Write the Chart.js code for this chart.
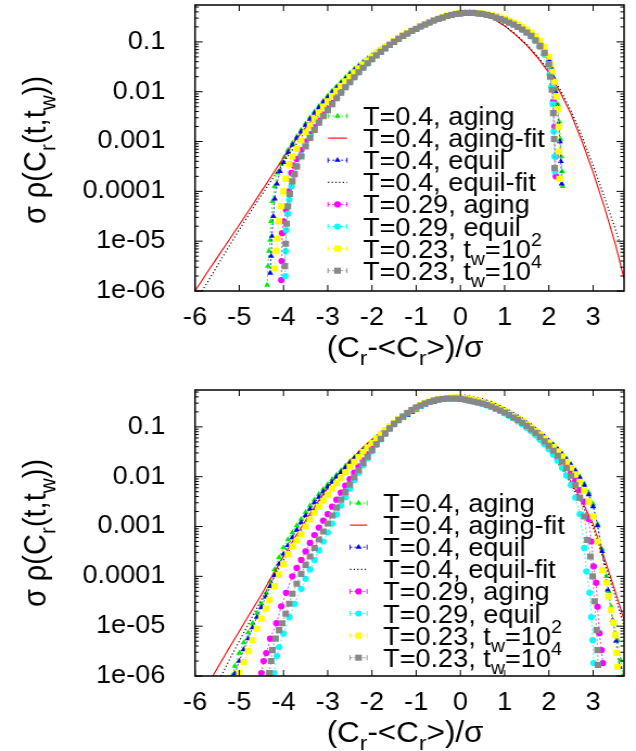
<!DOCTYPE html>
<html>
<head>
<meta charset="utf-8">
<script src="https://cdn.jsdelivr.net/npm/chart.js@4.4.0/dist/chart.umd.min.js"></script>
<style>
  html, body { margin: 0; padding: 0; background: #fff; }
  #wrap { position: relative; width: 636px; height: 751px; overflow: hidden; }
  canvas { position: absolute; left: 0; }
</style>
</head>
<body>
<div id="wrap">
  <canvas id="top" width="586" height="375" style="top:0;width:636px;height:375px"></canvas>
  <canvas id="bottom" width="586" height="376" style="top:375px;width:636px;height:376px"></canvas>
</div>
<script>
// ---- axes ----
const xTickValues = [-6, -5, -4, -3, -2, -1, 0, 1, 2, 3];
const yTickValues = [1e-6, 1e-5, 1e-4, 1e-3, 1e-2, 1e-1];
const yTickLabels = ['1e-06', '1e-05', '0.0001', '0.001', '0.01', '0.1'];
const xTitle = ['(C', { sub: 'r' }, '-<C', { sub: 'r' }, '>)/σ'];
const yTitle = ['σ ρ(C', { sub: 'r' }, '(t,t', { sub: 'w' }, '))'];

const legendLabels = [
  ['T=0.4, aging'],
  ['T=0.4, aging-fit'],
  ['T=0.4, equil'],
  ['T=0.4, equil-fit'],
  ['T=0.29, aging'],
  ['T=0.29, equil'],
  ['T=0.23, t', { sub: 'w' }, '=10', { sup: '2' }],
  ['T=0.23, t', { sub: 'w' }, '=10', { sup: '4' }]
];

// ---- top panel data (y given as log10) ----
const topX = [-3.7,-3.6,-3.5,-3.4,-3.3,-3.2,-3.1,-3.0,-2.9,-2.8,
  -2.7,-2.6,-2.5,-2.4,-2.3,-2.2,-2.1,-2.0,-1.9,-1.8,
  -1.7,-1.6,-1.5,-1.4,-1.3,-1.2,-1.1,-1.0,-0.9,-0.8,
  -0.7,-0.6,-0.5,-0.4,-0.3,-0.2,-0.1,0,0.1,0.2,
  0.3,0.4,0.5,0.6,0.7,0.8,0.9,1.0,1.1,1.2,
  1.3,1.4,1.5,1.6,1.7,1.8,1.9,2.0];

const topGreen = [-2.9,-2.77,-2.64,-2.52,-2.4,-2.29,-2.18,-2.08,-1.98,-1.89,
  -1.8,-1.71,-1.62,-1.54,-1.47,-1.4,-1.33,-1.27,-1.21,-1.15,
  -1.09,-1.04,-0.99,-0.93,-0.88,-0.83,-0.78,-0.74,-0.69,-0.65,
  -0.61,-0.57,-0.53,-0.5,-0.47,-0.45,-0.43,-0.41,-0.4,-0.4,
  -0.41,-0.42,-0.43,-0.45,-0.47,-0.5,-0.53,-0.56,-0.6,-0.64,
  -0.69,-0.74,-0.8,-0.87,-0.95,-1.05,-1.18,-1.35];
const topGreenL = [[-4.37,-5.88],[-4.35,-5.5],[-4.33,-5.2],[-4.3,-4.98],[-4.28,-4.6],[-4.25,-4.2],[-4.2,-3.9],[-4.14,-3.63],[-4.05,-3.45],[-3.98,-3.31],[-3.9,-3.17],[-3.8,-3.03]];
const topGreenR = [[2.05,-1.5],[2.1,-1.7],[2.15,-1.95],[2.2,-2.25],[2.23,-2.6],[2.26,-2.95],[2.28,-3.3],[2.3,-3.6],[2.31,-3.9]];

const topBlue = [-2.93,-2.8,-2.67,-2.55,-2.43,-2.32,-2.21,-2.11,-2.01,-1.92,
  -1.83,-1.74,-1.65,-1.57,-1.5,-1.43,-1.36,-1.3,-1.24,-1.18,
  -1.12,-1.06,-1.01,-0.95,-0.9,-0.85,-0.8,-0.75,-0.7,-0.66,
  -0.62,-0.58,-0.54,-0.51,-0.48,-0.46,-0.44,-0.42,-0.41,-0.41,
  -0.41,-0.42,-0.43,-0.45,-0.47,-0.5,-0.53,-0.56,-0.6,-0.64,
  -0.69,-0.74,-0.8,-0.87,-0.95,-1.05,-1.18,-1.36];
const topBlueL = [[-4.3,-5.64],[-4.28,-5.3],[-4.26,-4.9],[-4.23,-4.5],[-4.2,-4.15],[-4.15,-3.85],[-4.08,-3.6],[-4.0,-3.42],[-3.9,-3.22],[-3.8,-3.07]];
const topBlueR = [[2.05,-1.5],[2.1,-1.72],[2.15,-2.0],[2.19,-2.3],[2.22,-2.65],[2.25,-3.0],[2.27,-3.4],[2.29,-3.85]];

const topMagenta = [-3.35,-3.17,-3.0,-2.85,-2.71,-2.58,-2.46,-2.34,-2.23,-2.12,
  -2.01,-1.9,-1.8,-1.7,-1.6,-1.51,-1.42,-1.34,-1.26,-1.19,
  -1.12,-1.06,-1.0,-0.94,-0.88,-0.83,-0.78,-0.74,-0.69,-0.65,
  -0.61,-0.57,-0.54,-0.51,-0.48,-0.46,-0.44,-0.43,-0.42,-0.42,
  -0.42,-0.43,-0.44,-0.46,-0.48,-0.51,-0.54,-0.57,-0.61,-0.65,
  -0.7,-0.75,-0.81,-0.88,-0.97,-1.1,-1.25,-1.45];
const topMagentaL = [[-4.05,-5.78],[-4.04,-5.4],[-4.03,-4.84],[-4.0,-4.6],[-3.94,-4.37],[-3.88,-4.0],[-3.82,-3.63],[-3.76,-3.48]];
const topMagentaR = [[2.04,-1.62],[2.08,-1.87],[2.1,-2.2],[2.13,-2.7],[2.15,-3.3],[2.16,-3.7]];

const topCyan = [-3.5,-3.28,-3.08,-2.91,-2.76,-2.62,-2.49,-2.37,-2.25,-2.13,
  -2.02,-1.91,-1.81,-1.71,-1.61,-1.52,-1.43,-1.35,-1.27,-1.2,
  -1.13,-1.06,-1.0,-0.94,-0.88,-0.83,-0.78,-0.74,-0.69,-0.65,
  -0.61,-0.57,-0.54,-0.51,-0.48,-0.46,-0.44,-0.43,-0.42,-0.42,
  -0.42,-0.43,-0.44,-0.46,-0.48,-0.51,-0.54,-0.57,-0.61,-0.65,
  -0.7,-0.75,-0.81,-0.89,-0.98,-1.1,-1.26,-1.47];
const topCyanL = [[-3.96,-5.7],[-3.95,-5.2],[-3.94,-4.78],[-3.9,-4.45],[-3.87,-4.17],[-3.82,-3.9],[-3.76,-3.68]];
const topCyanR = [[2.02,-1.65],[2.06,-1.9],[2.09,-2.25],[2.11,-2.8],[2.13,-3.3],[2.14,-3.6]];

const topYellow = [-3.15,-2.98,-2.82,-2.68,-2.55,-2.42,-2.3,-2.19,-2.08,-1.98,
  -1.88,-1.79,-1.7,-1.61,-1.53,-1.45,-1.37,-1.3,-1.23,-1.16,
  -1.1,-1.04,-0.98,-0.92,-0.87,-0.82,-0.77,-0.73,-0.68,-0.64,
  -0.6,-0.56,-0.53,-0.5,-0.47,-0.45,-0.43,-0.42,-0.41,-0.41,
  -0.41,-0.42,-0.43,-0.44,-0.46,-0.48,-0.51,-0.54,-0.57,-0.61,
  -0.65,-0.7,-0.75,-0.81,-0.88,-0.98,-1.1,-1.3];
const topYellowL = [[-4.2,-5.55],[-4.17,-5.2],[-4.14,-4.95],[-4.1,-4.6],[-4.05,-4.3],[-4.0,-4.0],[-3.95,-3.75],[-3.87,-3.45],[-3.8,-3.3]];
const topYellowR = [[2.04,-1.45],[2.08,-1.6],[2.13,-1.8],[2.17,-2.1],[2.2,-2.35],[2.22,-2.7],[2.23,-3.2],[2.24,-3.75]];

const topGray = [-3.5,-3.3,-3.1,-2.93,-2.77,-2.62,-2.49,-2.37,-2.25,-2.13,
  -2.02,-1.91,-1.81,-1.71,-1.61,-1.52,-1.43,-1.35,-1.27,-1.2,
  -1.13,-1.06,-1.0,-0.94,-0.88,-0.83,-0.78,-0.74,-0.69,-0.65,
  -0.61,-0.57,-0.54,-0.51,-0.48,-0.46,-0.44,-0.43,-0.42,-0.42,
  -0.42,-0.43,-0.44,-0.46,-0.48,-0.51,-0.54,-0.57,-0.61,-0.65,
  -0.7,-0.75,-0.81,-0.88,-0.97,-1.08,-1.22,-1.45];
const topGrayL = [[-3.97,-5.5],[-3.95,-5.05],[-3.93,-4.65],[-3.9,-4.3],[-3.86,-4.05],[-3.8,-3.8],[-3.75,-3.65]];
const topGrayR = [[2.03,-1.7],[2.07,-1.96],[2.1,-2.43],[2.12,-2.95],[2.13,-3.53]];

const topAgingFit = [[-6.0,-6.0],[-5.75,-5.66],[-5.5,-5.33],[-5.25,-5.0],[-5.0,-4.67],[-4.75,-4.34],[-4.5,-4.0],[-4.25,-3.66],[-4.0,-3.32],[-3.75,-3.0],[-3.5,-2.72],[-3.25,-2.45],[-3.0,-2.2],[-2.75,-1.95],[-2.5,-1.72],[-2.25,-1.51],[-2.0,-1.32],[-1.75,-1.14],[-1.5,-0.98],[-1.25,-0.83],[-1.0,-0.7],[-0.75,-0.59],[-0.5,-0.5],[-0.25,-0.42],[0,-0.37],[0.25,-0.37],[0.5,-0.43],[0.75,-0.54],[1.0,-0.68],[1.25,-0.86],[1.5,-1.07],[1.75,-1.32],[2.0,-1.62],[2.25,-2.0],[2.5,-2.45],[2.75,-3.0],[3.0,-3.62],[3.25,-4.3],[3.5,-5.05],[3.7,-5.75]];
const topEquilFit = [[-5.84,-6.0],[-5.5,-5.5],[-5.25,-5.13],[-5.0,-4.77],[-4.75,-4.42],[-4.5,-4.08],[-4.25,-3.75],[-4.0,-3.42],[-3.75,-3.1],[-3.5,-2.8],[-3.25,-2.52],[-3.0,-2.25],[-2.75,-2.0],[-2.5,-1.76],[-2.25,-1.54],[-2.0,-1.34],[-1.75,-1.16],[-1.5,-1.0],[-1.25,-0.85],[-1.0,-0.72],[-0.75,-0.6],[-0.5,-0.5],[-0.25,-0.43],[0,-0.38],[0.25,-0.38],[0.5,-0.43],[0.75,-0.53],[1.0,-0.67],[1.25,-0.85],[1.5,-1.05],[1.75,-1.3],[2.0,-1.58],[2.25,-1.95],[2.5,-2.38],[2.75,-2.9],[3.0,-3.48],[3.25,-4.1],[3.5,-4.75],[3.7,-5.3]];

// ---- bottom panel data (y given as log10) ----
const botX = [-3.6,-3.5,-3.4,-3.3,-3.2,-3.1,-3.0,-2.9,-2.8,-2.7,
  -2.6,-2.5,-2.4,-2.3,-2.2,-2.1,-2.0,-1.9,-1.8,-1.7,
  -1.6,-1.5,-1.4,-1.3,-1.2,-1.1,-1.0,-0.9,-0.8,-0.7,
  -0.6,-0.5,-0.4,-0.3,-0.2,-0.1,0,0.1,0.2,0.3,
  0.4,0.5,0.6,0.7,0.8,0.9,1.0,1.1,1.2,1.3,
  1.4,1.5,1.6,1.7,1.8,1.9,2.0,2.1,2.2,2.3,
  2.4,2.5,2.6,2.7];

const botGreen = [-2.85,-2.71,-2.58,-2.46,-2.35,-2.25,-2.15,-2.05,-1.96,-1.87,
  -1.78,-1.69,-1.61,-1.53,-1.45,-1.37,-1.3,-1.22,-1.15,-1.08,
  -1.01,-0.95,-0.88,-0.82,-0.76,-0.7,-0.65,-0.6,-0.56,-0.52,
  -0.49,-0.46,-0.44,-0.43,-0.42,-0.41,-0.41,-0.41,-0.42,-0.44,
  -0.46,-0.48,-0.51,-0.54,-0.58,-0.62,-0.66,-0.71,-0.76,-0.81,
  -0.87,-0.93,-0.99,-1.06,-1.13,-1.2,-1.28,-1.36,-1.45,-1.54,
  -1.64,-1.75,-1.87,-2.0];
const botGreenL = [[-5.15,-5.98],[-5.1,-5.8],[-5.0,-5.54],[-4.9,-5.33],[-4.8,-5.13],[-4.7,-4.94],[-4.6,-4.74],[-4.5,-4.55],[-4.39,-4.33],[-4.3,-4.1],[-4.2,-3.86],[-4.1,-3.62],[-4.0,-3.42],[-3.9,-3.26],[-3.8,-3.12],[-3.7,-2.98]];
const botGreenR = [[2.8,-2.14],[2.9,-2.32],[3.0,-2.55],[3.1,-2.95],[3.2,-3.45],[3.3,-4.0],[3.35,-4.3],[3.41,-4.61],[3.48,-4.95],[3.55,-5.28],[3.62,-5.68],[3.68,-5.98]];

const botBlue = [-2.92,-2.78,-2.65,-2.52,-2.41,-2.3,-2.2,-2.1,-2.0,-1.91,
  -1.82,-1.73,-1.64,-1.56,-1.48,-1.4,-1.32,-1.24,-1.17,-1.1,
  -1.03,-0.96,-0.89,-0.83,-0.77,-0.71,-0.66,-0.61,-0.57,-0.53,
  -0.5,-0.47,-0.45,-0.43,-0.42,-0.41,-0.41,-0.41,-0.42,-0.44,
  -0.46,-0.48,-0.51,-0.54,-0.58,-0.62,-0.66,-0.71,-0.76,-0.81,
  -0.87,-0.93,-0.99,-1.06,-1.13,-1.2,-1.28,-1.36,-1.45,-1.55,
  -1.65,-1.76,-1.88,-2.02];
const botBlueL = [[-5.1,-5.95],[-5.0,-5.7],[-4.9,-5.47],[-4.8,-5.25],[-4.7,-5.03],[-4.6,-4.82],[-4.5,-4.62],[-4.4,-4.41],[-4.3,-4.2],[-4.2,-3.98],[-4.1,-3.75],[-4.0,-3.55],[-3.9,-3.38],[-3.8,-3.22],[-3.7,-3.07]];
const botBlueR = [[2.8,-2.17],[2.9,-2.36],[3.0,-2.6],[3.1,-2.98],[3.2,-3.5],[3.33,-4.27],[3.44,-4.88],[3.52,-5.3],[3.6,-5.82]];

const botMagenta = [-3.67,-3.5,-3.33,-3.17,-3.02,-2.88,-2.75,-2.6,-2.46,-2.32,
  -2.18,-2.05,-1.92,-1.79,-1.67,-1.55,-1.44,-1.33,-1.23,-1.13,
  -1.03,-0.94,-0.86,-0.79,-0.72,-0.66,-0.61,-0.57,-0.53,-0.5,
  -0.47,-0.45,-0.44,-0.43,-0.43,-0.43,-0.44,-0.45,-0.47,-0.49,
  -0.51,-0.53,-0.56,-0.59,-0.63,-0.67,-0.71,-0.76,-0.81,-0.86,
  -0.92,-0.98,-1.05,-1.12,-1.2,-1.29,-1.38,-1.47,-1.57,-1.68,
  -1.8,-1.93,-2.08,-2.27];
const botMagentaL = [[-4.5,-5.94],[-4.45,-5.7],[-4.39,-5.54],[-4.3,-5.25],[-4.16,-4.94],[-4.05,-4.6],[-3.94,-4.33],[-3.8,-4.0],[-3.7,-3.83]];
const botMagentaR = [[2.8,-2.5],[2.9,-2.85],[2.96,-3.3],[3.01,-3.8],[3.07,-4.13],[3.1,-4.61],[3.14,-5.14],[3.19,-5.48],[3.22,-5.74]];

const botCyan = [-4.25,-4.05,-3.86,-3.67,-3.48,-3.3,-3.12,-2.94,-2.76,-2.58,
  -2.41,-2.24,-2.07,-1.92,-1.77,-1.63,-1.49,-1.36,-1.25,-1.14,
  -1.04,-0.95,-0.87,-0.8,-0.73,-0.67,-0.62,-0.58,-0.54,-0.5,
  -0.47,-0.45,-0.44,-0.43,-0.43,-0.43,-0.44,-0.45,-0.47,-0.49,
  -0.51,-0.54,-0.57,-0.6,-0.64,-0.68,-0.73,-0.78,-0.83,-0.89,
  -0.95,-1.02,-1.09,-1.17,-1.26,-1.35,-1.45,-1.56,-1.68,-1.82,
  -1.98,-2.17,-2.42,-2.75];
const botCyanL = [[-4.21,-5.94],[-4.15,-5.6],[-4.1,-5.42],[-4.0,-5.15],[-3.87,-4.82],[-3.75,-4.55]];
const botCyanR = [[2.8,-3.43],[2.85,-3.9],[2.92,-4.33],[2.96,-4.82],[2.99,-5.28],[3.01,-5.74]];

const botYellow = [-3.15,-3.0,-2.86,-2.73,-2.6,-2.48,-2.36,-2.24,-2.13,-2.02,
  -1.91,-1.8,-1.7,-1.6,-1.5,-1.41,-1.32,-1.23,-1.15,-1.07,
  -0.99,-0.92,-0.85,-0.78,-0.72,-0.66,-0.61,-0.56,-0.52,-0.49,
  -0.46,-0.44,-0.43,-0.42,-0.41,-0.41,-0.41,-0.42,-0.43,-0.45,
  -0.47,-0.5,-0.53,-0.56,-0.6,-0.64,-0.68,-0.73,-0.78,-0.83,
  -0.89,-0.95,-1.01,-1.08,-1.15,-1.23,-1.31,-1.4,-1.49,-1.59,
  -1.7,-1.82,-1.95,-2.1];
const botYellowL = [[-5.0,-5.94],[-4.9,-5.72],[-4.8,-5.5],[-4.7,-5.28],[-4.6,-5.05],[-4.5,-4.85],[-4.4,-4.65],[-4.32,-4.47],[-4.2,-4.2],[-4.1,-3.97],[-4.0,-3.75],[-3.9,-3.55],[-3.8,-3.4],[-3.7,-3.28]];
const botYellowR = [[2.8,-2.28],[2.9,-2.5],[3.0,-2.8],[3.1,-3.3],[3.21,-3.87],[3.3,-4.13],[3.35,-4.41],[3.41,-4.67],[3.46,-4.92],[3.5,-5.18],[3.53,-5.54],[3.55,-5.82]];

const botGray = [-3.95,-3.77,-3.6,-3.43,-3.26,-3.1,-2.94,-2.78,-2.62,-2.46,
  -2.31,-2.16,-2.01,-1.87,-1.73,-1.6,-1.47,-1.35,-1.24,-1.13,
  -1.03,-0.94,-0.86,-0.79,-0.72,-0.66,-0.61,-0.57,-0.53,-0.5,
  -0.47,-0.45,-0.44,-0.43,-0.43,-0.43,-0.44,-0.45,-0.47,-0.49,
  -0.51,-0.53,-0.56,-0.59,-0.63,-0.67,-0.71,-0.76,-0.81,-0.86,
  -0.92,-0.98,-1.05,-1.12,-1.2,-1.29,-1.38,-1.48,-1.58,-1.7,
  -1.83,-1.98,-2.17,-2.42];
const botGrayL = [[-4.32,-5.94],[-4.28,-5.7],[-4.25,-5.48],[-4.18,-5.25],[-4.1,-5.08],[-4.03,-4.94],[-3.95,-4.75],[-3.87,-4.55],[-3.8,-4.35],[-3.7,-4.15]];
const botGrayR = [[2.8,-2.8],[2.87,-3.27],[2.94,-3.6],[2.99,-4.0],[3.03,-4.5],[3.08,-5.08],[3.1,-5.48],[3.11,-5.78]];

const botAgingFit = [[-5.6,-6.0],[-5.5,-5.85],[-5.25,-5.47],[-5.0,-5.1],[-4.75,-4.73],[-4.5,-4.37],[-4.25,-3.98],[-4.0,-3.6],[-3.75,-3.23],[-3.5,-2.88],[-3.25,-2.54],[-3.0,-2.22],[-2.75,-1.94],[-2.5,-1.68],[-2.25,-1.45],[-2.0,-1.25],[-1.75,-1.06],[-1.5,-0.9],[-1.25,-0.76],[-1.0,-0.64],[-0.75,-0.55],[-0.5,-0.48],[-0.25,-0.44],[0,-0.42],[0.25,-0.42],[0.5,-0.46],[0.75,-0.54],[1.0,-0.66],[1.25,-0.8],[1.5,-0.98],[1.75,-1.2],[2.0,-1.45],[2.25,-1.75],[2.5,-2.1],[2.75,-2.5],[3.0,-2.95],[3.25,-3.62],[3.5,-4.3],[3.7,-4.87]];
const botEquilFit = [[-5.41,-6.0],[-5.25,-5.72],[-5.0,-5.3],[-4.75,-4.88],[-4.5,-4.47],[-4.25,-4.07],[-4.0,-3.68],[-3.75,-3.3],[-3.5,-2.93],[-3.25,-2.58],[-3.0,-2.25],[-2.75,-1.96],[-2.5,-1.7],[-2.25,-1.46],[-2.0,-1.26],[-1.75,-1.07],[-1.5,-0.91],[-1.25,-0.77],[-1.0,-0.65],[-0.75,-0.56],[-0.5,-0.49],[-0.25,-0.44],[0,-0.42],[0.25,-0.43],[0.5,-0.47],[0.75,-0.55],[1.0,-0.67],[1.25,-0.82],[1.5,-1.0],[1.75,-1.22],[2.0,-1.48],[2.25,-1.79],[2.5,-2.15],[2.75,-2.56],[3.0,-3.02],[3.25,-3.7],[3.5,-4.4],[3.7,-5.0]];

// ---- styles ----
const FONT = '"Liberation Sans", Arial, Helvetica, sans-serif';
const seriesColors = ['#00ee00', '#ff0000', '#0000ff', '#000000', '#ff00ff', '#00ffff', '#ffff00', '#888888'];
const seriesMarkers = ['triangle', null, 'triangle', null, 'circle', 'circle', 'rect', 'rect'];
const markerRadius = { triangle: 3.3, circle: 3.1, rect: 4.3 };

Chart.defaults.font.family = FONT;
Chart.defaults.color = '#000';

function toPoints(pairs) {
  return pairs.map(p => ({ x: p[0], y: Math.pow(10, p[1]) }));
}
function series(grid, body, left, right) {
  const mid = grid.map((x, i) => [x, body[i]]);
  return toPoints(left.concat(mid, right));
}

function makeDataset(i, data) {
  const color = seriesColors[i];
  const m = seriesMarkers[i];
  const base = { data, order: 7 - i, clip: 0, fill: false, tension: 0, borderColor: color };
  if (m) {
    return Object.assign(base, {
      borderWidth: 0.8, borderDash: [2, 2],
      pointStyle: m, pointRadius: markerRadius[m], pointHoverRadius: 0,
      pointBackgroundColor: color, pointBorderColor: color, pointBorderWidth: 0
    });
  }
  if (i === 1) return Object.assign(base, { borderWidth: 1.1, pointRadius: 0 });
  return Object.assign(base, { borderWidth: 1.2, borderDash: [1.1, 2.3], pointRadius: 0 });
}

function font(px) { return px + 'px ' + FONT; }

function drawRich(ctx, parts, x, y, px, align) {
  const segs = parts.map(p => typeof p === 'string' ? { t: p, s: 0 } : (p.sub ? { t: p.sub, s: -1 } : { t: p.sup, s: 1 }));
  let total = 0;
  segs.forEach(g => { ctx.font = font(g.s ? px * 0.72 : px); g.w = ctx.measureText(g.t).width; total += g.w; });
  let cx = align === 'center' ? x - total / 2 : x;
  segs.forEach(g => {
    ctx.font = font(g.s ? px * 0.72 : px);
    const dy = g.s < 0 ? px * 0.28 : (g.s > 0 ? -px * 0.45 : 0);
    ctx.fillText(g.t, cx, y + dy);
    cx += g.w;
  });
}

function drawMarker(ctx, style, x, y, r) {
  ctx.beginPath();
  if (style === 'circle') {
    ctx.arc(x, y, r, 0, Math.PI * 2);
  } else if (style === 'rect') {
    const h = Math.SQRT1_2 * r;
    ctx.rect(x - h, y - h, 2 * h, 2 * h);
  } else {
    for (let k = 0; k < 3; k++) {
      const a = k * 2 * Math.PI / 3;
      const px = x + Math.sin(a) * r, py = y - Math.cos(a) * r;
      if (k === 0) ctx.moveTo(px, py); else ctx.lineTo(px, py);
    }
    ctx.closePath();
  }
  ctx.fill();
}

// frame, inward ticks, axis titles and key
const paperDecor = {
  id: 'paperDecor',
  afterDatasetsDraw(chart, args, opts) {
    const { ctx, chartArea: a, scales: { x, y } } = chart;
    ctx.save();
    ctx.strokeStyle = '#000';
    ctx.lineWidth = 1;
    ctx.beginPath();
    xTickValues.forEach(v => {
      const px = x.getPixelForValue(v);
      ctx.moveTo(px, a.bottom); ctx.lineTo(px, a.bottom - 6);
      ctx.moveTo(px, a.top); ctx.lineTo(px, a.top + 6);
    });
    yTickValues.forEach(dec => {
      for (let k = 1; k <= 9; k++) {
        const v = dec * k;
        if (v > y.max) break;
        const py = y.getPixelForValue(v);
        const len = k === 1 ? 7 : 3.5;
        ctx.moveTo(a.left, py); ctx.lineTo(a.left + len, py);
        ctx.moveTo(a.right, py); ctx.lineTo(a.right - len, py);
      }
    });
    ctx.stroke();
    ctx.lineWidth = 1.5;
    ctx.strokeRect(a.left, a.top, a.right - a.left, a.bottom - a.top);

    // titles
    ctx.fillStyle = '#000';
    ctx.textAlign = 'left';
    ctx.textBaseline = 'alphabetic';
    drawRich(ctx, xTitle, opts.xTitleX, opts.xTitleBase, 29, 'center');
    ctx.save();
    ctx.translate(opts.yTitleBase, opts.yTitleMid);
    ctx.rotate(-Math.PI / 2);
    drawRich(ctx, yTitle, 0, 0, 29, 'center');
    ctx.restore();

    // key
    legendLabels.forEach((label, i) => {
      const base = opts.keyBase + i * opts.keyStep;
      const cy = base - 9;
      const [x0, x1] = opts.keySample;
      const color = seriesColors[i];
      const m = seriesMarkers[i];
      ctx.strokeStyle = color;
      ctx.fillStyle = color;
      ctx.lineWidth = m ? 0.9 : (i === 1 ? 1.1 : 1.2);
      ctx.setLineDash(m ? [2, 2] : (i === 1 ? [] : [1.1, 2.3]));
      ctx.beginPath();
      ctx.moveTo(x0, cy); ctx.lineTo(x1, cy);
      ctx.stroke();
      ctx.setLineDash([]);
      if (m) {
        ctx.beginPath();
        ctx.moveTo(x0, cy - 2.5); ctx.lineTo(x0, cy + 2.5);
        ctx.moveTo(x1, cy - 2.5); ctx.lineTo(x1, cy + 2.5);
        ctx.stroke();
        drawMarker(ctx, m, (x0 + x1) / 2, cy, markerRadius[m]);
      }
      ctx.fillStyle = '#000';
      drawRich(ctx, label, opts.keyText, base, 25, 'left');
    });
    ctx.restore();
  }
};

function makePanel(canvasId, sets, layout) {
  new Chart(document.getElementById(canvasId), {
    type: 'line',
    data: { datasets: sets.map((d, i) => makeDataset(i, d)) },
    plugins: [paperDecor],
    options: {
      responsive: false,
      animation: false,
      devicePixelRatio: 1,
      layout: { padding: { top: layout.padTop, right: 11, left: 0, bottom: 0 } },
      plugins: {
        legend: { display: false },
        tooltip: { enabled: false },
        paperDecor: layout
      },
      scales: {
        x: {
          type: 'linear', min: -6, max: 3.7,
          grid: { display: false }, border: { display: false },
          afterBuildTicks: s => { s.ticks = xTickValues.map(v => ({ value: v })); },
          afterFit: s => { s.height = layout.xAxisH; s.paddingLeft = 0; s.paddingRight = 0; },
          ticks: { font: { size: 25 }, color: '#000', padding: 4, maxRotation: 0, autoSkip: false,
            callback: v => String(v) }
        },
        y: {
          type: 'logarithmic', min: 1e-6, max: 0.55,
          grid: { display: false }, border: { display: false },
          afterBuildTicks: s => { s.ticks = yTickValues.map(v => ({ value: v })); },
          afterFit: s => { s.width = 179.7; s.paddingTop = 0; s.paddingBottom = 0; },
          ticks: { font: { size: 25 }, color: '#000', padding: 19.3, autoSkip: false,
            callback: v => { const k = yTickValues.findIndex(t => Math.abs(Math.log10(t) - Math.log10(v)) < 1e-6); return k >= 0 ? yTickLabels[k] : ''; } }
        }
      }
    }
  });
}

makePanel('top', [
  series(topX, topGreen, topGreenL, topGreenR),
  toPoints(topAgingFit),
  series(topX, topBlue, topBlueL, topBlueR),
  toPoints(topEquilFit),
  series(topX, topMagenta, topMagentaL, topMagentaR),
  series(topX, topCyan, topCyanL, topCyanR),
  series(topX, topYellow, topYellowL, topYellowR),
  series(topX, topGray, topGrayL, topGrayR)
], {
  padTop: 5, xAxisH: 84,
  xTitleX: 373.2, xTitleBase: 357,
  yTitleBase: 42.4, yTitleMid: 150,
  keyBase: 125, keyStep: 22.1, keyText: 334.5, keySample: [302.2, 319.7]
});

makePanel('bottom', [
  series(botX, botGreen, botGreenL, botGreenR),
  toPoints(botAgingFit),
  series(botX, botBlue, botBlueL, botBlueR),
  toPoints(botEquilFit),
  series(botX, botMagenta, botMagentaL, botMagentaR),
  series(botX, botCyan, botCyanL, botCyanR),
  series(botX, botYellow, botYellowL, botYellowR),
  series(botX, botGray, botGrayL, botGrayR)
], {
  padTop: 15, xAxisH: 75,
  xTitleX: 373.2, xTitleBase: 367,
  yTitleBase: 42.4, yTitleMid: 158,
  keyBase: 137, keyStep: 22.1, keyText: 352.9, keySample: [322.5, 338.2]
});
</script>
</body>
</html>
